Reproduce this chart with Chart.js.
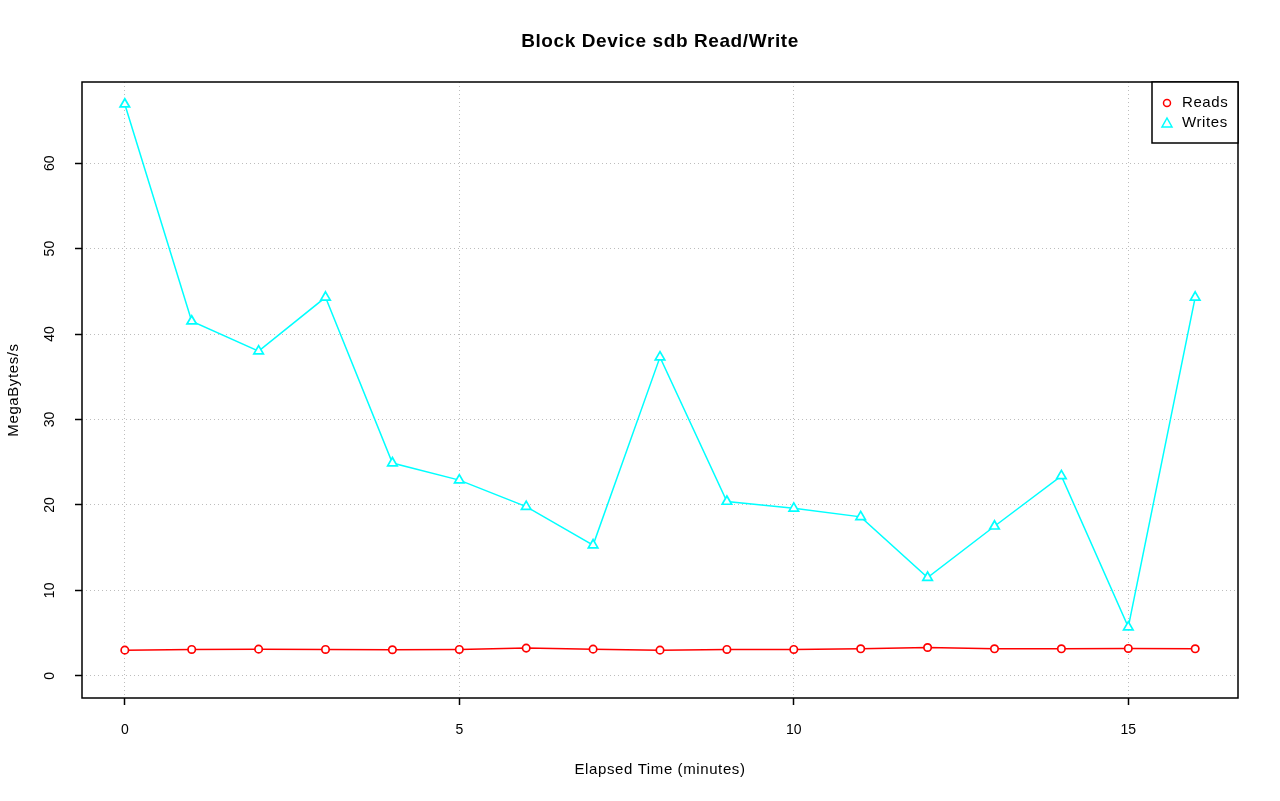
<!DOCTYPE html>
<html>
<head>
<meta charset="utf-8">
<script src="https://cdn.jsdelivr.net/npm/chart.js@4"></script>
<style>
  html, body { margin: 0; padding: 0; background: #fff; }
  #wrap { width: 1280px; height: 801px; }
</style>
</head>
<body>
<div id="wrap"><canvas id="c" width="1280" height="801"></canvas></div>
<script>
// 経過時間 (分)
const minutes = [0, 1, 2, 3, 4, 5, 6, 7, 8, 9, 10, 11, 12, 13, 14, 15, 16];
const reads = [3.0, 3.08, 3.12, 3.08, 3.05, 3.08, 3.24, 3.12, 3.0, 3.08, 3.08, 3.16, 3.31, 3.16, 3.16, 3.2, 3.16];
const writes = [66.9, 41.5, 38.0, 44.3, 24.9, 22.9, 19.8, 15.3, 37.3, 20.4, 19.6, 18.6, 11.5, 17.5, 23.4, 5.7, 44.3];
const xTicks = [0, 5, 10, 15];
const yTicks = [0, 10, 20, 30, 40, 50, 60];

const FONT = '"Liberation Sans", Arial, sans-serif';

function toPoints(ys) {
    return minutes.map((m, i) => ({ x: m, y: ys[i] }));
}

// --- 枠・タイトル・凡例など ---
const decor = {
    id: 'decor',
    afterDraw(chart) {
        const { ctx, chartArea: a, scales } = chart;
        ctx.save();
        // plot box
        ctx.strokeStyle = '#000';
        ctx.lineWidth = 1.5;
        ctx.strokeRect(a.left, a.top, a.right - a.left, a.bottom - a.top);

        // y tick labels (rotated)
        ctx.fillStyle = '#000';
        ctx.font = '14px ' + FONT;
        ctx.textAlign = 'center';
        ctx.textBaseline = 'middle';
        yTicks.forEach(v => {
            const y = scales.y.getPixelForValue(v);
            ctx.save();
            ctx.translate(a.left - 32, y);
            ctx.rotate(-Math.PI / 2);
            ctx.fillText(String(v), 0, 0);
            ctx.restore();
        });

        // title
        ctx.letterSpacing = '0.6px';
        ctx.font = 'bold 19px ' + FONT;
        ctx.fillText('Block Device sdb Read/Write', (a.left + a.right) / 2, 42);

        // axis titles
        ctx.font = '15px ' + FONT;
        ctx.fillText('Elapsed Time (minutes)', (a.left + a.right) / 2, 770);
        ctx.save();
        ctx.translate(14, (a.top + a.bottom) / 2);
        ctx.rotate(-Math.PI / 2);
        ctx.fillText('MegaBytes/s', 0, 0);
        ctx.restore();

        // legend
        const lx = 1152, ly = a.top, lw = a.right - lx, lh = 61;
        ctx.fillStyle = '#fff';
        ctx.fillRect(lx, ly, lw, lh);
        ctx.strokeStyle = '#000';
        ctx.lineWidth = 1.5;
        ctx.strokeRect(lx, ly, lw, lh);
        ctx.strokeStyle = 'red';
        ctx.beginPath();
        ctx.arc(1167, 103, 3.5, 0, Math.PI * 2);
        ctx.stroke();
        ctx.strokeStyle = 'cyan';
        ctx.beginPath();
        ctx.moveTo(1167, 118);
        ctx.lineTo(1172, 127);
        ctx.lineTo(1162, 127);
        ctx.closePath();
        ctx.stroke();
        ctx.fillStyle = '#000';
        ctx.textAlign = 'left';
        ctx.font = '15px ' + FONT;
        ctx.fillText('Reads', 1182, 103);
        ctx.fillText('Writes', 1182, 123);
        ctx.restore();
    }
};

const gridOpts = {
    color: '#bdbdbd',
    lineWidth: 1,
    tickColor: '#000',
    tickLength: 7,
    tickWidth: 1.5,
    tickBorderDash: []
};

const ctx = document.getElementById('c').getContext('2d');
const chart = new Chart(ctx, {
    type: 'line',
    data: {
        datasets: [
            {
                label: 'Reads',
                data: toPoints(reads),
                borderColor: 'red',
                borderWidth: 1.5,
                pointStyle: 'circle',
                pointRadius: 3.7,
                pointBorderWidth: 1.7,
                pointBorderColor: 'red',
                pointBackgroundColor: '#fff',
                tension: 0
            },
            {
                label: 'Writes',
                data: toPoints(writes),
                borderColor: 'cyan',
                borderWidth: 1.5,
                pointStyle: 'triangle',
                pointRadius: 5.5,
                pointBorderWidth: 1.7,
                pointBorderColor: 'cyan',
                pointBackgroundColor: '#fff',
                tension: 0
            }
        ]
    },
    options: {
        responsive: false,
        animation: false,
        devicePixelRatio: 1,
        layout: { padding: { top: 82, right: 42, left: 0, bottom: 0 } },
        plugins: { legend: { display: false }, title: { display: false }, tooltip: { enabled: false } },
        scales: {
            x: {
                type: 'linear',
                min: -0.64,
                max: 16.64,
                afterBuildTicks: s => { s.ticks = xTicks.map(v => ({ value: v })); },
                afterFit: s => { s.height = 103; },
                ticks: { color: '#000', font: { size: 14, family: FONT }, padding: 17 },
                grid: gridOpts,
                border: { display: false, dash: [1, 3] }
            },
            y: {
                type: 'linear',
                min: -2.6,
                max: 69.5,
                afterBuildTicks: s => { s.ticks = yTicks.map(v => ({ value: v })); },
                afterFit: s => { s.width = 82; },
                ticks: { display: false },
                grid: gridOpts,
                border: { display: false, dash: [1, 3] }
            }
        }
    },
    plugins: [decor]
});
</script>
</body>
</html>
